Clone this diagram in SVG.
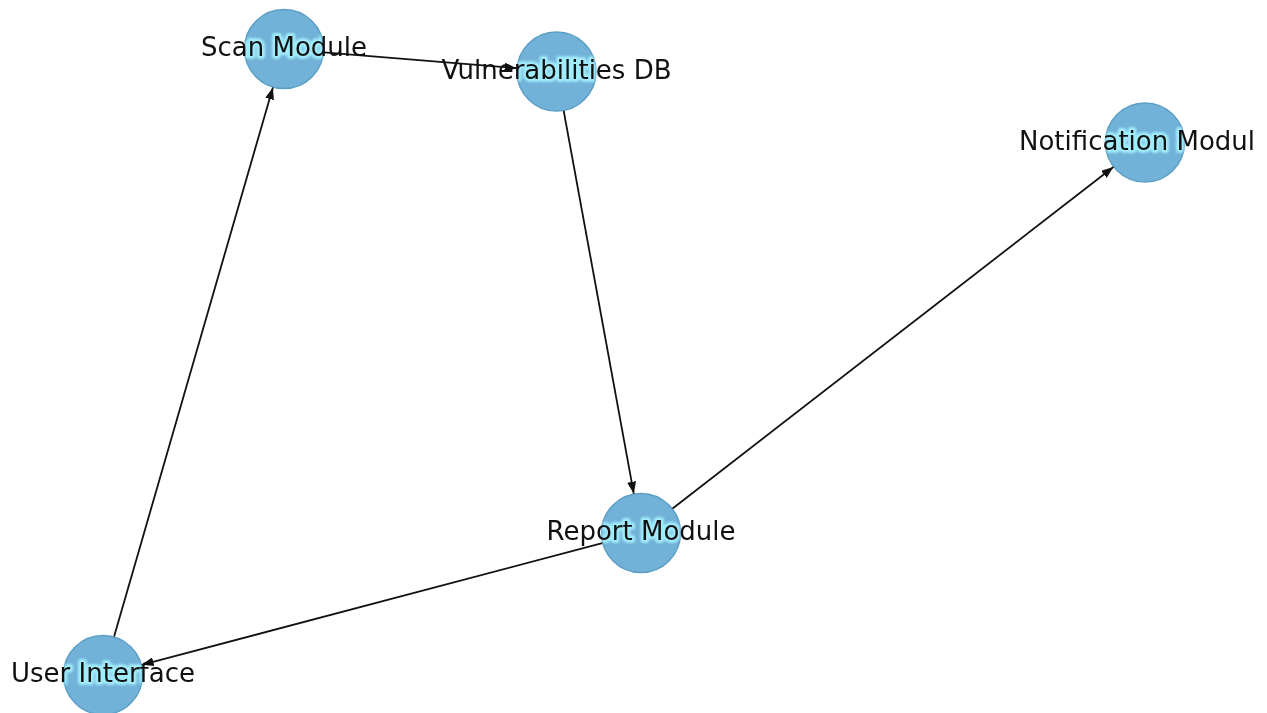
<svg xmlns="http://www.w3.org/2000/svg" width="1267" height="713" viewBox="0 0 1267 713">
<style>
.node{fill:#72b2d8;stroke:#5c9fc6;stroke-width:1.5}
.lbl{font-family:"DejaVu Sans",sans-serif;font-size:26px;text-anchor:middle;dominant-baseline:central;fill:#111}
.halo{font-family:"DejaVu Sans",sans-serif;font-size:26px;text-anchor:middle;dominant-baseline:central;fill:none;stroke:#a6f2ff;stroke-width:6;stroke-linejoin:round;opacity:0.9}
.edge{fill:none;stroke:#111;stroke-width:1.8}
</style>
<defs>
<marker id="arr" markerUnits="userSpaceOnUse" markerWidth="13" markerHeight="9" refX="12" refY="4.5" orient="auto">
<path d="M0,0 L12,4.5 L0,9 Z" fill="#111"/>
</marker>
<filter id="blur" x="-10%" y="-50%" width="120%" height="200%"><feGaussianBlur stdDeviation="1.2"/></filter>
<clipPath id="cScan"><circle cx="284" cy="49" r="39.5"/></clipPath>
<clipPath id="cVdb"><circle cx="556.5" cy="71.5" r="39.5"/></clipPath>
<clipPath id="cNot"><circle cx="1145" cy="142.5" r="39.5"/></clipPath>
<clipPath id="cRep"><circle cx="641" cy="533" r="39.5"/></clipPath>
<clipPath id="cUi"><circle cx="103" cy="675" r="39.5"/></clipPath>
</defs>
<rect width="1267" height="713" fill="#fff"/>
<g id="nodes-circles">
<g id="scan"><circle class="node" cx="284" cy="49" r="39.5"/></g>
<g id="vdb"><circle class="node" cx="556.5" cy="71.5" r="39.5"/></g>
<g id="notif"><circle class="node" cx="1145" cy="142.5" r="39.5"/></g>
<g id="report"><circle class="node" cx="641" cy="533" r="39.5"/></g>
<g id="ui"><circle class="node" cx="103" cy="675" r="39.5"/></g>
</g>
<g id="halos" filter="url(#blur)">
<text class="halo" x="284" y="47" clip-path="url(#cScan)">Scan Module</text>
<text class="halo" x="556.5" y="70" clip-path="url(#cVdb)">Vulnerabilities DB</text>
<text class="halo" x="1019" y="140.5" clip-path="url(#cNot)" style="text-anchor:start">Notification Modul</text>
<text class="halo" x="641" y="531" clip-path="url(#cRep)">Report Module</text>
<text class="halo" x="103" y="673" clip-path="url(#cUi)">User Interface</text>
</g>
<g id="connectors">
<path class="edge" d="M114.1,636.6 L272.9,87.4" marker-end="url(#arr)"/>
<path class="edge" d="M323.9,52.3 L516.6,68.2" marker-end="url(#arr)"/>
<path class="edge" d="M563.7,110.8 L633.8,493.7" marker-end="url(#arr)"/>
<path class="edge" d="M672.6,508.5 L1113.4,167" marker-end="url(#arr)"/>
<path class="edge" d="M602.3,543.2 L141.7,664.8" marker-end="url(#arr)"/>
</g>
<g id="labels">
<text class="lbl" x="284" y="47">Scan Module</text>
<text class="lbl" x="556.5" y="70">Vulnerabilities DB</text>
<text class="lbl" x="1019" y="140.5" style="text-anchor:start">Notification Modul</text>
<text class="lbl" x="641" y="531">Report Module</text>
<text class="lbl" x="103" y="673">User Interface</text>
</g>
</svg>
